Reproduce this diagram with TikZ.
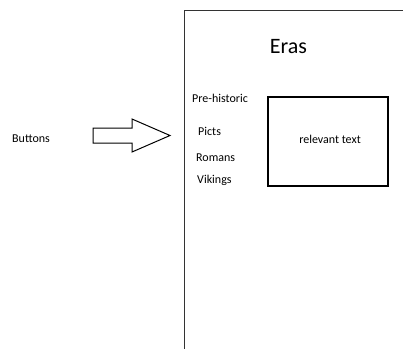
\documentclass[tikz,border=0pt]{standalone}
\usepackage{fontspec}
\setmainfont{Carlito}
\begin{document}
\begin{tikzpicture}[x=1pt,y=1pt]
            \tikzstyle{every node}+=[inner sep=0pt, font=\fontsize{12}{14}\selectfont]
            \tikzstyle{era}=[anchor=base west]
                \useasboundingbox (0,0) rectangle (403,-349);
                % page frame, open to the right and below
                \draw [black!80, line width=1pt] (403,-10) -- (184,-10) -- (184,-349);
                \node [anchor=base] (title) at (288.5,-53) {\fontsize{22}{26}\selectfont Eras};
                \node [anchor=base west] (buttons) at (12,-142) {Buttons};
                % block arrow
                \draw [black, line width=1pt] (93,-128) -- (132,-128) -- (132,-119) -- (170,-135.5)
                    -- (132,-152) -- (132,-143) -- (93,-143) -- cycle;
                \node [era] (prehistoric) at (192,-102) {Pre-historic};
                \node [era] (picts) at (198,-135) {Picts};
                \node [era] (romans) at (196,-161) {Romans};
                \node [era] (vikings) at (197,-183) {Vikings};
                \draw [black, line width=1.2pt] (268,-97) rectangle (388,-186);
                \node [anchor=base] (relevant) at (330,-143) {relevant text};
            \end{tikzpicture}
\end{document}
